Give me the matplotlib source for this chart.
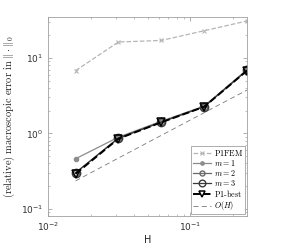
import matplotlib
matplotlib.use("Agg")
import matplotlib.pyplot as plt
from matplotlib.ticker import LogLocator, NullFormatter

plt.rcParams['mathtext.fontset'] = 'cm'

H = [1/64, 1/32, 1/16, 1/8, 1/4]
p1fem = [6.8, 16.3, 17.1, 23.0, 31.0]
m1 = [0.46, 0.89, 1.45, 2.3, 7.0]
m2 = [0.30, 0.87, 1.42, 2.27, 6.9]
m3 = [0.30, 0.86, 1.41, 2.26, 6.85]
p1best = [0.29, 0.85, 1.40, 2.25, 6.8]
oh = [0.234, 0.47, 0.94, 1.88, 3.75]
labels = [r'$\mathrm{P1FEM}$', r'$m=1$', r'$m=2$', r'$m=3$', r'$\mathrm{P1\text{-}best}$', r'$O(H)$']

fig = plt.figure(figsize=(2.81, 2.47), dpi=100)
ax = fig.add_axes([48/281, 1-216/247, (247-48)/281, (216-17)/247])

ax.plot(H, p1fem, ls='--', color='#b5b5b5', lw=0.9, marker='x', ms=3.5, mew=0.8, label=labels[0])
ax.plot(H, m1, ls='-', color='#8c8c8c', lw=0.9, marker='o', ms=3, mfc='#8c8c8c', label=labels[1])
ax.plot(H, m2, ls='-', color='#6a6a6a', lw=0.9, marker='o', ms=4.5, mfc='none', label=labels[2])
ax.plot(H, m3, ls='-', color='#3a3a3a', lw=0.9, marker='o', ms=6, mfc='none', label=labels[3])
ax.plot(H, p1best, ls='--', color='black', lw=1.4, marker='v', ms=6, mfc='none', mew=1.1, label=labels[4])
ax.plot(H, oh, ls='--', color='#7a7a7a', lw=0.6, label=labels[5], dashes=(6, 4))

ax.set_xscale('log')
ax.set_yscale('log')
ax.set_xlim(0.01, 0.25)
ax.set_ylim(0.08, 35)

for s in ax.spines.values():
    s.set_color('#a0a0a0')
    s.set_linewidth(0.6)
ax.tick_params(which='both', direction='in', top=True, right=True, color='#909090', labelsize=6.5, labelcolor='#303030')
ax.tick_params(which='major', length=3, width=0.5)
ax.tick_params(which='minor', length=1.5, width=0.4)
ax.xaxis.set_minor_locator(LogLocator(base=10, subs=range(2, 10)))
ax.yaxis.set_minor_locator(LogLocator(base=10, subs=range(2, 10)))
ax.xaxis.set_minor_formatter(NullFormatter())
ax.yaxis.set_minor_formatter(NullFormatter())
ax.set_xlabel('H', fontsize=7, color='#202020', labelpad=1)
ax.set_ylabel(r'$\mathrm{(relative)\ macroscopic\ error\ in}\ \|\cdot\|_0$', fontsize=7.5,
              color='#202020', labelpad=3)

leg = ax.legend(loc='lower right', prop={'size': 5.8},
                handlelength=2.2, borderpad=0.25, labelspacing=0.02, handletextpad=0.4,
                fancybox=False, edgecolor='#a0a0a0', framealpha=1, borderaxespad=0.2)
leg.get_frame().set_linewidth(0.6)
for h in leg.legend_handles:
    h.set_markersize(h.get_markersize() * 0.8)

fig.savefig('out.png', dpi=100)
